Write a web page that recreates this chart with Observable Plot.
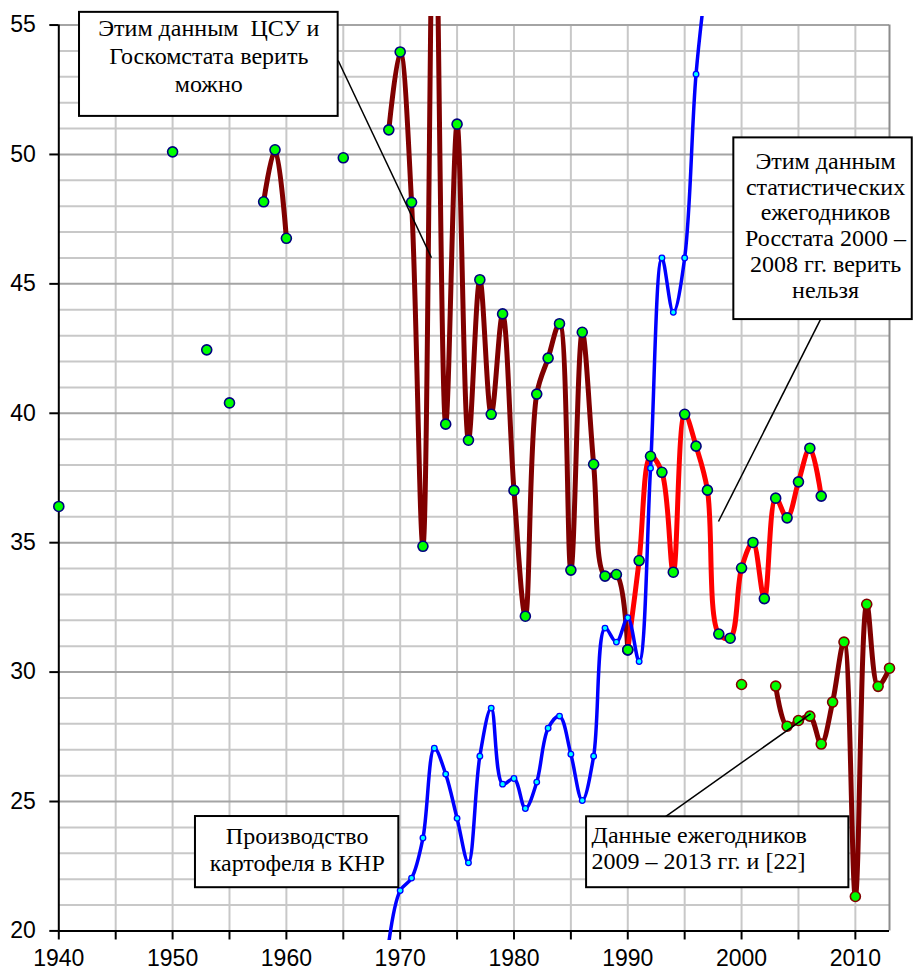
<!DOCTYPE html>
<html><head><meta charset="utf-8">
<script src="https://cdn.jsdelivr.net/npm/d3@7"></script>
<script src="https://cdn.jsdelivr.net/npm/@observablehq/plot@0.6"></script>
<style>html,body{margin:0;padding:0;background:#fff;overflow:hidden}</style>
</head><body><div id="chart"></div>
<script>
// Series A: ЦСУ и Госкомстат (dark red)
const yearsA = [1940,1950,1953,1955,1958,1959,1960,1965,1969,1970,1971,1972,1973,1974,1975,1976,1977,1978,1979,1980,1981,1982,1983,1984,1985,1986,1987,1988,1989,1990];
const valuesA = [36.4,50.1,42.45,40.4,48.17,50.18,46.76,49.87,50.95,53.96,48.15,34.86,62,39.58,51.17,38.96,45.16,39.96,43.84,37.02,32.16,40.74,42.13,43.46,33.94,43.13,38.03,33.71,33.77,30.86];
// Series B: Росстат 2000–2008 (red)
const yearsB = [1990,1991,1992,1993,1994,1995,1996,1997,1998,1999,2000,2001,2002,2003,2004,2005,2006,2007];
const valuesB = [30.86,34.31,38.34,37.72,33.86,39.96,38.73,37.03,31.47,31.31,34.02,35.01,32.84,36.72,35.96,37.35,38.65,36.8];
// Series C: ежегодники 2009–2013 и [22] (dark red)
const yearsC = [2000,2003,2004,2005,2006,2007,2008,2009,2010,2011,2012,2013];
const valuesC = [29.52,29.46,27.91,28.13,28.3,27.22,28.84,31.16,21.33,32.62,29.45,30.15];
// Series D: производство картофеля в КНР (blue)
const yearsD = [1969,1970,1971,1972,1973,1974,1975,1976,1977,1978,1979,1980,1981,1982,1983,1984,1985,1986,1987,1988,1989,1990,1991,1992,1993,1994,1995,1996,1997];
const valuesD = [19.55,21.56,22.04,23.59,27.06,26.06,24.35,22.63,26.75,28.61,25.67,25.89,24.73,25.75,27.83,28.3,26.83,25.04,26.75,31.7,31.16,32.1,30.41,37.88,46.0,43.9,46.0,53.1,57.1];

// Axis ticks and labels
const xLabels = [1940,1950,1960,1970,1980,1990,2000,2010];
const xTicks = d3.range(1940, 2011, 5);
const yLabels = [20,25,30,35,40,45,50,55];
const yMinor = d3.range(21, 55).filter(v => v % 5 !== 0);

// Annotations
const boxes = [
  {x1: 1941.82, x2: 1964.55, y1: 51.47, y2: 55.49},
  {x1: 1999.32, x2: 2015.0, y1: 43.62, y2: 50.64},
  {x1: 1952.01, x2: 1969.88, y1: 21.67, y2: 24.42},
  {x1: 1986.38, x2: 2009.43, y1: 21.67, y2: 24.41}
];
const note1 = [{x: 1953.18, y: 53.83, t: "Этим данным  ЦСУ и\nГоскомстата верить\nможно"}];
const note2 = [{x: 2007.38, y: 47.27, t: "Этим данным\nстатистических\nежегодников\nРосстата 2000 –\n2008 гг. верить\nнельзя"}];
const note3 = [{x: 1960.95, y: 23.18, t: "Производство\nкартофеля в КНР"}];
const note4 = [{x: 1986.82, y: 23.23, t: "Данные ежегодников\n2009 – 2013 гг. и [22]"}];
const leaders = [
  {x1: 1964.55, y1: 53.63, x2: 1972.75, y2: 46.01},
  {x1: 2006.93, y1: 43.62, x2: 1997.97, y2: 35.82},
  {x1: 1993.32, y1: 24.42, x2: 2006.07, y2: 28.39}
];

function withGaps(years, values) {
  const rows = [];
  years.forEach((yr, i) => {
    if (i > 0 && yr - years[i - 1] > 1) rows.push({year: (yr + years[i - 1]) / 2, v: NaN});
    rows.push({year: yr, v: values[i]});
  });
  return rows;
}
const A = withGaps(yearsA, valuesA);
const B = withGaps(yearsB, valuesB);
const C = withGaps(yearsC, valuesC);
const D = withGaps(yearsD, valuesD);
const visible = d => d.v >= 19.6 && d.v <= 55.4;
const serif = "Liberation Serif, Times New Roman, serif";
const sans = "Liberation Sans, Arial, sans-serif";

const chart = Plot.plot({
  width: 913, height: 970,
  marginLeft: 58.3, marginRight: 24, marginTop: 16, marginBottom: 30,
  x: {domain: [1940, 2013], axis: null},
  y: {domain: [19.63, 55.33], axis: null},
  style: {background: "white", overflow: "visible"},
  marks: [
    Plot.ruleY(yMinor, {x1: 1940, x2: 2013, stroke: "#c8c8c8", strokeWidth: 2}),
    Plot.ruleX(xTicks.filter(d => d > 1940), {y1: 20, y2: 55, stroke: "#c8c8c8", strokeWidth: 2}),
    Plot.ruleY(yLabels.filter(d => d > 20), {x1: 1940, x2: 2013, stroke: "#a4a4a4", strokeWidth: 2}),
    Plot.ruleX([2013], {y1: 20, y2: 55, stroke: "#8c8c8c", strokeWidth: 2}),
    Plot.ruleX([1940], {y1: 20, y2: 55, stroke: "black", strokeWidth: 2}),
    Plot.ruleY([20], {x1: 1940, x2: 2013, stroke: "black", strokeWidth: 2}),
    Plot.ruleX(xTicks, {y1: 20, y2: 19.65, stroke: "black", strokeWidth: 2}),
    Plot.ruleY(yLabels, {x1: 1940, x2: 1939.21, stroke: "black", strokeWidth: 2}),
    Plot.text(xLabels, {x: d => d, y: 20, dy: 27.5, text: d => String(d), fontSize: 23, fontFamily: sans, fill: "black"}),
    Plot.text(yLabels, {x: 1940, y: d => d, dx: -23, text: d => String(d), textAnchor: "end", fontSize: 23, fontFamily: sans, fill: "black"}),
    Plot.line(A, {x: "year", y: "v", curve: "catmull-rom", stroke: "#800000", strokeWidth: 5, clip: true}),
    Plot.line(B, {x: "year", y: "v", curve: "catmull-rom", stroke: "#ff0000", strokeWidth: 5, clip: true}),
    Plot.line(C, {x: "year", y: "v", curve: "catmull-rom", stroke: "#800000", strokeWidth: 5, clip: true}),
    Plot.line(D, {x: "year", y: "v", curve: "catmull-rom", stroke: "#0000ff", strokeWidth: 3.5, clip: true}),
    Plot.dot(A, {x: "year", y: "v", r: 5, fill: "#00ff00", stroke: "#000080", strokeWidth: 1.6, filter: visible}),
    Plot.dot(B, {x: "year", y: "v", r: 5, fill: "#00ff00", stroke: "#000080", strokeWidth: 1.6, filter: visible}),
    Plot.dot(C, {x: "year", y: "v", r: 5, fill: "#00ff00", stroke: "#800000", strokeWidth: 1.6, filter: visible}),
    Plot.dot(D, {x: "year", y: "v", r: 2.8, fill: "#00ffff", stroke: "#0000ff", strokeWidth: 1.3, filter: visible}),
    Plot.link(leaders, {x1: "x1", y1: "y1", x2: "x2", y2: "y2", stroke: "black", strokeWidth: 1.5}),
    Plot.rect(boxes, {x1: "x1", x2: "x2", y1: "y1", y2: "y2", fill: "white", stroke: "black", strokeWidth: 2}),
    Plot.text(note1, {x: "x", y: "y", text: "t", lineHeight: 1.16, textAnchor: "middle", fontSize: 24, fontFamily: serif, fill: "black"}),
    Plot.text(note2, {x: "x", y: "y", text: "t", lineHeight: 1.075, textAnchor: "middle", fontSize: 24, fontFamily: serif, fill: "black"}),
    Plot.text(note3, {x: "x", y: "y", text: "t", lineHeight: 1.14, textAnchor: "middle", fontSize: 24, fontFamily: serif, fill: "black"}),
    Plot.text(note4, {x: "x", y: "y", text: "t", lineHeight: 1.11, textAnchor: "start", fontSize: 24, fontFamily: serif, fill: "black"})
  ]
});
document.getElementById("chart").appendChild(chart);
</script>
</body></html>
